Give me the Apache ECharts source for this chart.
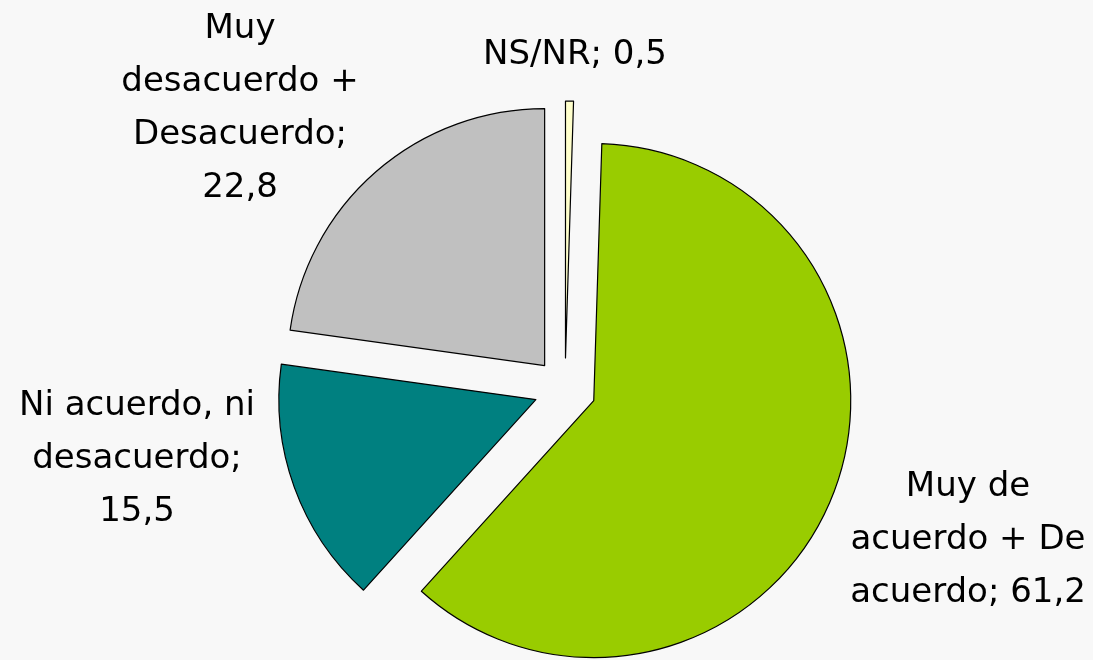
<!DOCTYPE html>
<html>
<head>
<meta charset="utf-8">
<script src="https://cdn.jsdelivr.net/npm/echarts@6/dist/echarts.min.js"></script>
<style>
  html, body { margin: 0; padding: 0; background: #f8f8f8; }
  #chart { width: 1093px; height: 660px; }
</style>
</head>
<body>
<div id="chart"></div>
<script>
// data, clockwise from 12 o'clock
const categories = ['NS/NR', 'Muy de\nacuerdo + De\nacuerdo', 'Ni acuerdo, ni\ndesacuerdo', 'Muy\ndesacuerdo +\nDesacuerdo'];
const values = [0.5, 61.2, 15.5, 22.8];
const colors = ['#ffffcc', '#99cc00', '#008080', '#c0c0c0'];
// separator between name and value in each label
const labelSep = ['; ', '; ', ';\n', ';\n'];
// label centres (px)
const labelPos = [[575, 55], [968, 540], [137, 459], [240, 109]];

const chart = echarts.init(document.getElementById('chart'));

const labels = values.map(function (v, i) {
  return {
    type: 'text',
    x: labelPos[i][0],
    y: labelPos[i][1],
    style: {
      text: categories[i] + labelSep[i] + String(v).replace('.', ','),
      fill: '#000',
      fontFamily: 'DejaVu Sans',
      fontSize: 34,
      lineHeight: 53,
      align: 'center',
      verticalAlign: 'middle'
    }
  };
});

chart.setOption({
  backgroundColor: '#f8f8f8',
  animation: false,
  graphic: labels,
  series: [{
    type: 'pie',
    center: [565, 389],
    radius: 257,
    startAngle: 90,
    clockwise: true,
    selectedMode: 'multiple',
    selectedOffset: 31,
    emphasis: { disabled: true },
    itemStyle: { borderColor: '#000', borderWidth: 1.2 },
    label: { show: false },
    labelLine: { show: false },
    data: values.map(function (v, i) {
      return { name: categories[i], value: v, selected: true, itemStyle: { color: colors[i] } };
    })
  }]
});
</script>
</body>
</html>
